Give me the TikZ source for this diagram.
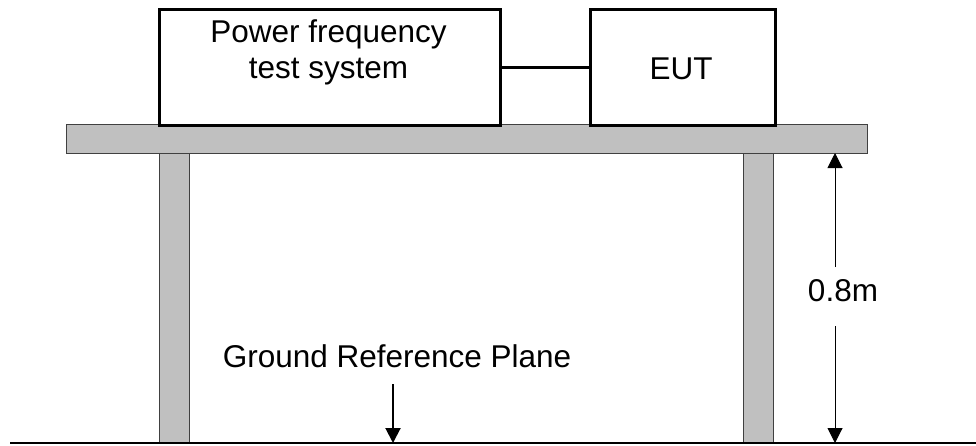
\documentclass[tikz,border=0pt]{standalone}
\usepackage{fontspec}
\setmainfont{Liberation Sans}
\usetikzlibrary{arrows.meta}
\definecolor{tablegray}{HTML}{C0C0C0}
\definecolor{edgegray}{HTML}{404040}
\begin{document}
\begin{tikzpicture}[x=1pt,y=-1pt,
  boxstyle/.style={draw=black,line width=3pt,fill=white},
  woodstyle/.style={draw=edgegray,line width=1.2pt,fill=tablegray},
  lbl/.style={font=\fontsize{31.5}{36}\selectfont,anchor=base,inner sep=0pt},
  tip/.style={-{Triangle[width=15pt,length=15pt]}}]
\useasboundingbox (0,0) rectangle (976,445);
% legs
\node[woodstyle,minimum width=30pt,minimum height=290pt,inner sep=0pt,anchor=north west] (legL) at (159,153) {};
\node[woodstyle,minimum width=30pt,minimum height=290pt,inner sep=0pt,anchor=north west] (legR) at (743,153) {};
% table top
\node[woodstyle,minimum width=801pt,minimum height=29pt,inner sep=0pt,anchor=north west] (top) at (66,124) {};
% boxes
\node[boxstyle,minimum width=341pt,minimum height=116pt,inner sep=0pt,anchor=north west] (pfts) at (158,8) {};
\node[boxstyle,minimum width=185pt,minimum height=116pt,inner sep=0pt,anchor=north west] (eut) at (589,8) {};
\node[lbl] (t1) at (328.5,42) {Power frequency};
\node[lbl] (t2) at (328.5,78) {test system};
\node[lbl] (t3) at (681,79) {EUT};
\draw[line width=3pt] (pfts.east) -- (eut.west);
% ground
\coordinate (gl) at (10,443);
\coordinate (gr) at (976,443);
\draw[line width=2pt] (gl) -- (gr);
% dimension
\coordinate (dtop) at (835,153);
\coordinate (dbot) at (835,443);
\coordinate (dm1) at (835,267);
\coordinate (dm2) at (835,326);
\node[lbl] (dim) at (843,301) {0.8m};
\draw[line width=1pt,tip] (dm1) -- (dtop);
\draw[line width=1pt,tip] (dm2) -- (dbot);
% ground reference plane
\node[lbl] (grp) at (397,367) {Ground Reference Plane};
\coordinate (ga) at (393,384);
\coordinate (gb) at (393,443);
\draw[line width=2pt,tip] (ga) -- (gb);
\end{tikzpicture}
\end{document}
